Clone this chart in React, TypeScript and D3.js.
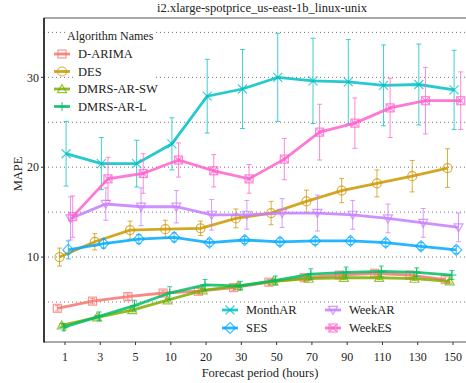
import React, { useEffect, useRef } from 'react';
import * as d3 from 'd3';

// forecast periods (x categories)
const periods = ['1', '3', '5', '10', '20', '30', '50', '70', '90', '110', '130', '150'];
const algorithms = ['D-ARIMA', 'DES', 'DMRS-AR-SW', 'DMRS-AR-L', 'MonthAR', 'SES', 'WeekAR', 'WeekES'];
const colors = ['#F8766D', '#CD9600', '#7CAE00', '#00BE67', '#00BFC4', '#00A9FF', '#C77CFF', '#FF61CC'];
const yTicks = [10, 20, 30];
const gridValues = [5, 10, 15, 20, 25, 30, 35];

// mean MAPE per algorithm
const dArima = [4.3, 5.1, 5.6, 6.0, 6.2, 6.6, 7.2, 7.7, 8.0, 8.2, 8.0, 7.5];
const des = [10.0, 11.7, 13.0, 13.1, 13.2, 14.3, 14.9, 16.2, 17.4, 18.2, 19.0, 19.9];
const dmrsSw = [2.4, 3.3, 4.1, 5.2, 6.3, 6.8, 7.3, 7.6, 7.7, 7.7, 7.6, 7.3];
const dmrsL = [2.2, 3.4, 4.6, 6.0, 6.9, 6.8, 7.4, 8.1, 8.3, 8.4, 8.3, 8.0];
const monthAR = [21.5, 20.4, 20.4, 22.6, 27.9, 28.7, 30.0, 29.6, 29.5, 29.1, 29.2, 28.6];
const ses = [10.8, 11.5, 12.0, 12.2, 11.6, 11.9, 11.7, 11.8, 11.8, 11.6, 11.2, 10.8];
const weekAR = [14.3, 15.9, 15.6, 15.6, 14.7, 14.7, 14.9, 14.9, 14.7, 14.3, 13.8, 13.3];
const weekES = [14.5, 18.7, 19.3, 20.8, 19.6, 18.7, 20.9, 23.9, 24.9, 26.6, 27.4, 27.4];

// error bar half widths
const dArimaErr = [0.3, 0.3, 0.3, 0.3, 0.3, 0.3, 0.3, 0.3, 0.3, 0.3, 0.3, 0.3];
const desErr = [1.0, 0.9, 1.0, 1.0, 0.8, 1.05, 1.3, 1.25, 1.35, 1.5, 1.75, 2.15];
const dmrsSwErr = [0.2, 0.2, 0.2, 0.2, 0.2, 0.2, 0.2, 0.2, 0.2, 0.2, 0.2, 0.2];
const dmrsLErr = [0.4, 0.5, 0.6, 0.7, 0.6, 0.5, 0.5, 0.6, 0.6, 0.6, 0.5, 0.5];
const monthARErr = [3.6, 2.9, 2.6, 2.9, 4.1, 4.4, 4.9, 4.75, 4.7, 4.5, 4.5, 4.4];
const sesErr = [1.0, 0.5, 0.5, 0.5, 0.4, 0.4, 0.4, 0.4, 0.4, 0.4, 0.4, 0.4];
const weekARErr = [2.4, 1.8, 2.1, 1.8, 1.7, 1.6, 1.6, 2.0, 1.6, 1.6, 1.6, 1.6];
const weekESErr = [2.3, 2.4, 2.2, 1.9, 1.8, 1.6, 2.3, 3.1, 2.8, 3.3, 3.7, 3.2];

const means = [dArima, des, dmrsSw, dmrsL, monthAR, ses, weekAR, weekES];
const errs = [dArimaErr, desErr, dmrsSwErr, dmrsLErr, monthARErr, sesErr, weekARErr, weekESErr];

const FONT = '"Liberation Serif", "DejaVu Serif", serif';

// hollow marker shapes, ggplot 0..7
const drawShape = (g, i, color) => {
  const r = 4.5;
  const p = g.append('g').attr('fill', 'none').attr('stroke', color).attr('stroke-width', 1.2);
  if (i === 0 || i === 7) {
    p.append('rect').attr('x', -r + 0.5).attr('y', -r + 0.5).attr('width', 2 * r - 1).attr('height', 2 * r - 1);
    if (i === 7) {
      p.append('path').attr('d', `M${-r + 0.5},${-r + 0.5}L${r - 0.5},${r - 0.5}M${r - 0.5},${-r + 0.5}L${-r + 0.5},${r - 0.5}`);
    }
  } else if (i === 1) {
    p.append('circle').attr('r', r);
  } else if (i === 2) {
    p.append('path').attr('d', `M0,${-r}L${r},${r * 0.8}L${-r},${r * 0.8}Z`);
  } else if (i === 3) {
    p.append('path').attr('d', `M0,${-r}V${r}M${-r},0H${r}`);
  } else if (i === 4) {
    p.append('path').attr('d', `M${-r},${-r}L${r},${r}M${r},${-r}L${-r},${r}`);
  } else if (i === 5) {
    p.append('path').attr('d', `M0,${-r - 1}L${r + 1},0L0,${r + 1}L${-r - 1},0Z`);
  } else if (i === 6) {
    p.append('path').attr('d', `M0,${r}L${r},${-r * 0.8}L${-r},${-r * 0.8}Z`);
  }
  return p;
};

const App = () => {
  const ref = useRef(null);

  useEffect(() => {
    const svg = d3.select(ref.current);
    svg.selectAll('*').remove();

    const width = 466;
    const height = 383;
    const left = 44, top = 18, bottom = 342, right = 474;

    svg.append('rect').attr('width', width).attr('height', height).attr('fill', 'white');

    const x = d3.scalePoint().domain(periods).range([65, 453]);
    const y = d3.scaleLinear().domain([0.55, 36.6]).range([bottom, top]);
    const step = 2.2;
    const dodge = i => (i - (algorithms.length - 1) / 2) * step;

    // grid lines
    svg.append('g').selectAll('line')
      .data(gridValues)
      .enter()
      .append('line')
      .attr('x1', left).attr('x2', right)
      .attr('y1', d => y(d)).attr('y2', d => y(d))
      .attr('stroke', '#666')
      .attr('stroke-width', 0.9)
      .attr('stroke-dasharray', '1,3');

    // panel border
    svg.append('rect')
      .attr('x', left).attr('y', top)
      .attr('width', right - left).attr('height', bottom - top)
      .attr('fill', 'none').attr('stroke', '#555').attr('stroke-width', 1);
    svg.append('line').attr('x1', left).attr('x2', left).attr('y1', top).attr('y2', bottom + 0.5)
      .attr('stroke', '#000').attr('stroke-width', 1.3);

    // white legend background (top-left)
    svg.append('rect').attr('x', 66).attr('y', 26).attr('width', 88).attr('height', 18).attr('fill', 'white');
    svg.append('rect').attr('x', 74).attr('y', 44).attr('width', 80).attr('height', 70).attr('fill', 'white');

    // y axis ticks
    const yAxis = svg.append('g');
    yTicks.forEach(t => {
      yAxis.append('line').attr('x1', left - 3).attr('x2', left).attr('y1', y(t)).attr('y2', y(t)).attr('stroke', '#333');
      yAxis.append('text').attr('x', left - 5).attr('y', y(t)).attr('dy', '0.35em')
        .attr('text-anchor', 'end').style('font-family', FONT).style('font-size', '12px').attr('fill', '#222').text(t);
    });

    // x axis ticks
    const xAxis = svg.append('g');
    periods.forEach(p => {
      xAxis.append('line').attr('x1', x(p)).attr('x2', x(p)).attr('y1', bottom).attr('y2', bottom + 3).attr('stroke', '#333');
      xAxis.append('text').attr('x', x(p)).attr('y', 361)
        .attr('text-anchor', 'middle').style('font-family', FONT).style('font-size', '12px').attr('fill', '#222').text(p);
    });

    // axis titles and title
    svg.append('text').attr('x', 260).attr('y', 377).attr('text-anchor', 'middle')
      .style('font-family', FONT).style('font-size', '12.5px').attr('fill', '#222').text('Forecast period (hours)');
    svg.append('text').attr('transform', 'translate(22,174) rotate(-90)').attr('text-anchor', 'middle')
      .style('font-family', FONT).style('font-size', '12.5px').attr('fill', '#222').text('MAPE');
    svg.append('text').attr('x', 262).attr('y', 12).attr('text-anchor', 'middle')
      .style('font-family', FONT).style('font-size', '12.5px').attr('fill', '#222')
      .text('i2.xlarge-spotprice_us-east-1b_linux-unix');

    const line = d3.line().x(d => d[0]).y(d => d[1]);

    algorithms.forEach((name, i) => {
      const color = colors[i];
      const pts = periods.map((p, j) => [x(p) + dodge(i), y(means[i][j]), j]);
      const g = svg.append('g');

      // error bars
      pts.forEach(([px, , j]) => {
        const lo = y(means[i][j] - errs[i][j]);
        const hi = y(means[i][j] + errs[i][j]);
        g.append('path')
          .attr('d', `M${px},${hi}V${lo}M${px - 2.5},${hi}H${px + 2.5}M${px - 2.5},${lo}H${px + 2.5}`)
          .attr('stroke', color).attr('stroke-width', 1).attr('fill', 'none').attr('opacity', 0.75);
      });

      g.append('path')
        .datum(pts)
        .attr('d', line)
        .attr('fill', 'none')
        .attr('stroke', color)
        .attr('stroke-width', 2.8)
        .attr('opacity', 0.85);

      pts.forEach(([px, py]) => {
        drawShape(g, i, color).attr('transform', `translate(${px},${py})`).attr('opacity', 0.75);
      });
    });

    // legends
    const legendKey = (i, kx, ky, label) => {
      const g = svg.append('g');
      g.append('line').attr('x1', kx - 8).attr('x2', kx + 8).attr('y1', ky).attr('y2', ky)
        .attr('stroke', colors[i]).attr('stroke-width', 2.8).attr('opacity', 0.85);
      drawShape(g, i, colors[i]).attr('transform', `translate(${kx},${ky})`).attr('opacity', 0.75);
      g.append('text').attr('x', kx + 16).attr('y', ky).attr('dy', '0.35em')
        .style('font-family', FONT).style('font-size', '12.5px').attr('fill', '#222').text(label);
    };

    svg.append('text').attr('x', 67).attr('y', 40)
      .style('font-family', FONT).style('font-size', '12px').attr('fill', '#222').text('Algorithm Names');
    [0, 1, 2, 3].forEach((i, k) => legendKey(i, 62, 54 + k * 17.5, algorithms[i]));
    legendKey(4, 230, 310, algorithms[4]);
    legendKey(5, 230, 328, algorithms[5]);
    legendKey(6, 333, 310, algorithms[6]);
    legendKey(7, 333, 328, algorithms[7]);
  }, []);

  return (
    <svg ref={ref} width={466} height={383}
      style={{ position: 'absolute', left: 0, top: 0, display: 'block' }} />
  );
};

export default App;
